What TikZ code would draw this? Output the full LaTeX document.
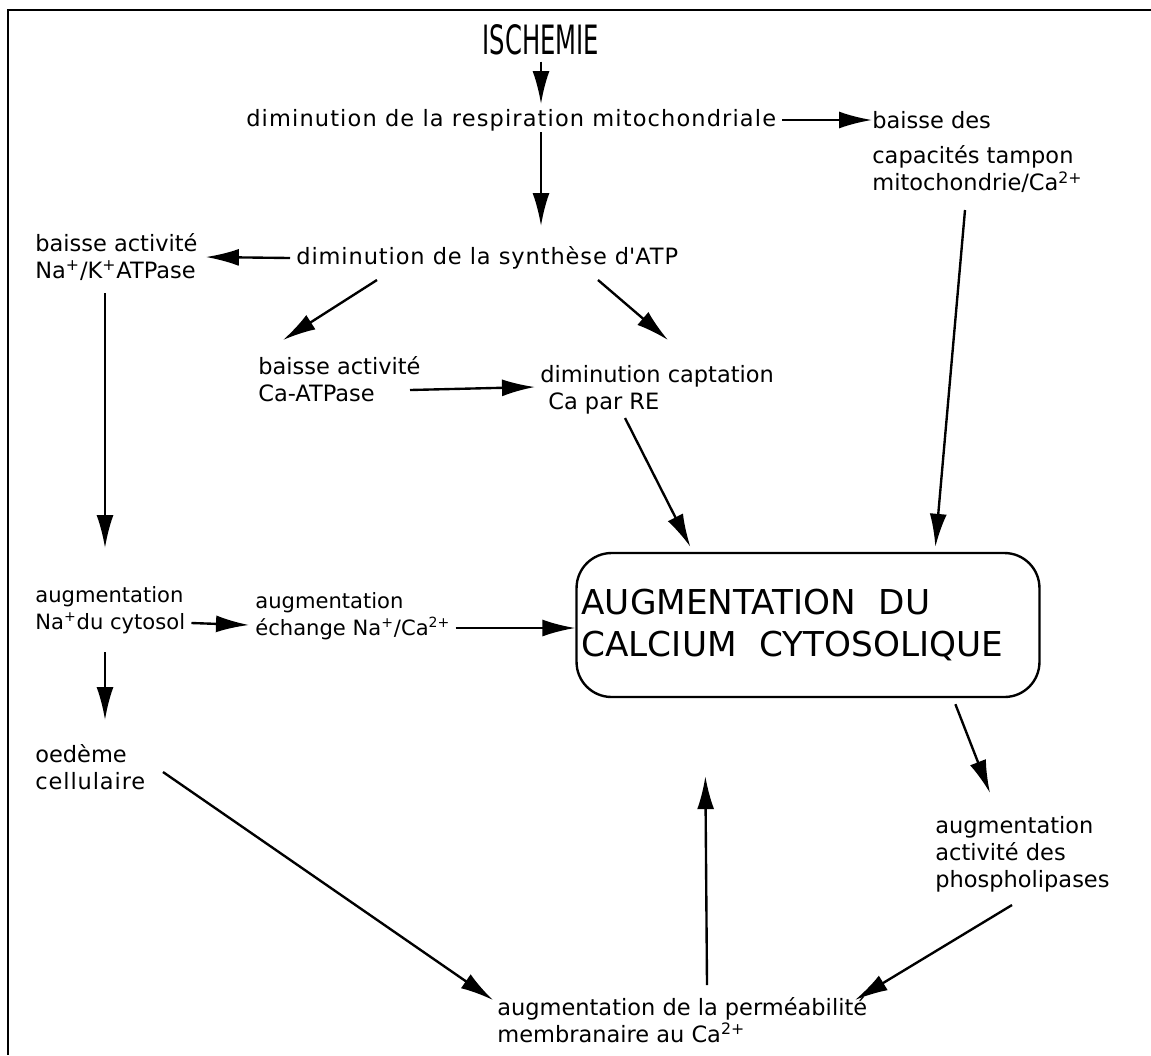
\documentclass[tikz,border=0pt]{standalone}
\usepackage{fontspec}
\usepackage{graphicx}
\setmainfont{DejaVu Sans}
\usetikzlibrary{arrows.meta,calc}
\begin{document}
\begin{tikzpicture}[x=0.02cm,y=-0.02cm,
  txt/.style={inner sep=0pt,align=left,anchor=west,font=\fontsize{12.8}{15.4}\selectfont},
  txtsm/.style={txt,font=\fontsize{12}{15.4}\selectfont},
  arr/.style={line width=1.35pt,-{Latex[length=0.66cm,width=0.34cm]}},
  bigbox/.style={draw,line width=1.35pt,rounded corners=0.7cm,minimum width=9.26cm,minimum height=2.88cm,
    text width=9.06cm,inner xsep=0.1cm,align=left,font=\fontsize{19.5}{23.8}\selectfont}
]
\useasboundingbox (0,0) rectangle (1151,1055);
\draw[line width=1.7pt] (1151,10) -- (8,10) -- (8,1055);

\node[inner sep=0pt,font=\fontsize{23}{25}\selectfont] (isch) at (541,40) {\scalebox{0.6}[1]{ISCHEMIE}};
\node[txt] (t1) at (246,120) {\addfontfeatures{LetterSpace=5}diminution de la respiration mitochondriale};
\node[txt] (t2) at (872,152) {baisse des\\[5pt]capacités tampon\\mitochondrie/Ca\textsuperscript{2+}};
\node[txt] (t3) at (296,258) {\addfontfeatures{LetterSpace=4}diminution de la synthèse d\textquotesingle ATP};
\node[txt] (t4) at (35,257) {baisse activité\\Na\textsuperscript{+}/K\textsuperscript{+}ATPase};
\node[txt] (t10) at (258,379) {baisse activité\\Ca-ATPase};
\node[txt] (t11) at (540,390) {diminution captation\\\hspace*{0.16cm}Ca par RE};
\node[bigbox] (box) at (808,625) {AUGMENTATION\ \ DU\\CALCIUM\ \ CYTOSOLIQUE};
\node[txtsm] (t5) at (35,610) {augmentation\\Na\textsuperscript{+}du cytosol};
\node[txtsm] (t6) at (255,616) {augmentation\\échange Na\textsuperscript{+}/Ca\textsuperscript{2+}};
\node[txt] (t7) at (35,767) {oedème\\\addfontfeatures{LetterSpace=4}cellulaire};
\node[txt] (t9) at (935,854) {augmentation\\activité des\\phospholipases};
\node[txt] (t8) at (497,1020) {augmentation de la perméabilité\\membranaire au Ca\textsuperscript{2+}};

\draw[arr] ($(isch.south)+(0,6)$) -- ($(t1.west)+(295,-16)$);
\draw[arr] ($(t1.east)+(6,0)$) -- ($(t2.west)+(0,-32)$);
\draw[arr] ($(t1.west)+(295,12)$) -- ($(t3.west)+(245,-32)$);
\draw[arr] ($(t3.west)+(-6,0)$) -- ($(t4.east)+(8,0)$);
\draw[arr] ($(t4.west)+(70,36)$) -- ($(t5.west)+(70,-62)$);
\draw[arr] ($(t5.west)+(70,42)$) -- ($(t7.west)+(70,-47)$);
\draw[arr] ($(t5.east)+(6,13)$) -- ($(t6.west)+(-6,9)$);
\draw[arr] ($(t6.east)+(5,12)$) -- ($(box.west)+(0,3)$);
\draw[arr] ($(t3.west)+(81,22)$) -- ($(t10.west)+(25,-39)$);
\draw[arr] ($(t3.west)+(302,22)$) -- ($(t11.west)+(128,-50)$);
\draw[arr] ($(t10.west)+(152,11)$) -- ($(t11.west)+(-5,-3)$);
\draw[arr] ($(t11.west)+(85,28)$) -- ($(box.north west)+(115,-5)$);
\draw[arr] ($(t2.west)+(93,58)$) -- ($(box.north west)+(360,-5)$);
\draw[arr] ($(t7.west)+(128,5)$) -- ($(t8.west)+(-4,-20)$);
\draw[arr] ($(t8.west)+(210,-35)$) -- ($(box.south west)+(130,78)$);
\draw[arr] ($(box.south west)+(380,6)$) -- ($(t9.west)+(55,-61)$);
\draw[arr] ($(t9.west)+(77,51)$) -- ($(t8.west)+(358,-20)$);
\end{tikzpicture}
\end{document}
